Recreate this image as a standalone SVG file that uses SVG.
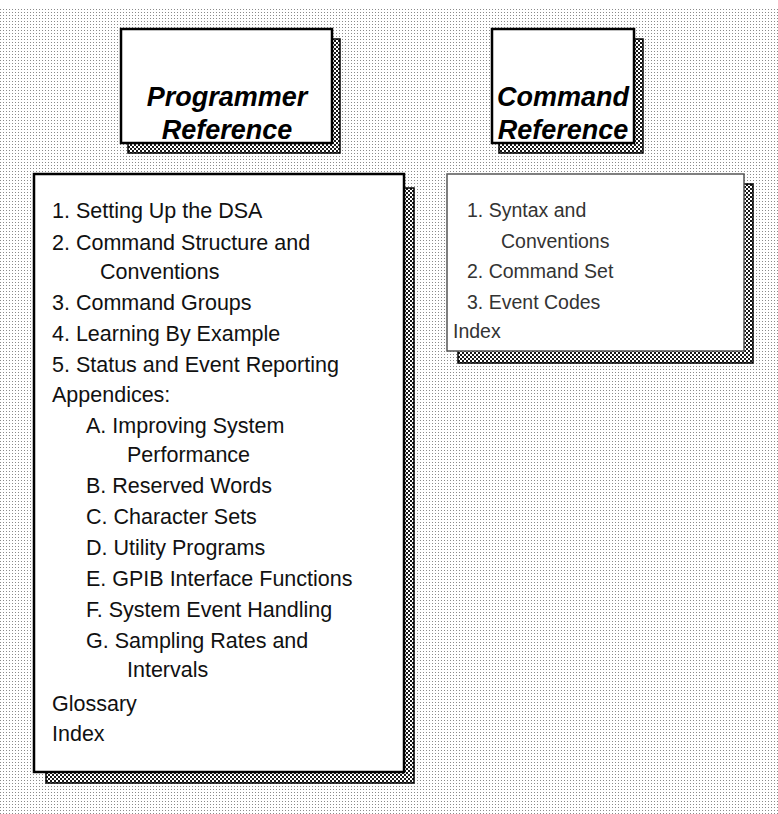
<svg xmlns="http://www.w3.org/2000/svg" width="778" height="814" viewBox="0 0 778 814">
<defs>
<pattern id="bgdots" width="3" height="3" patternUnits="userSpaceOnUse">
<rect width="3" height="3" fill="#ffffff"/>
<rect x="0" y="0" width="1" height="1" fill="#8a8a8a"/>
</pattern>
<pattern id="checker" width="4" height="4" patternUnits="userSpaceOnUse">
<rect width="4" height="4" fill="#1a1a1a"/>
<rect x="0" y="0" width="2" height="2" fill="#ffffff"/>
<rect x="2" y="2" width="2" height="2" fill="#ffffff"/>
</pattern>
</defs>
<style>
.shadow{fill:url(#checker);stroke:#000;stroke-width:1.5}
.box{fill:#fff;stroke:#000;stroke-width:2.5}
.box2{fill:#fff;stroke:#555;stroke-width:1.5}
.title{font-family:"Liberation Sans",Arial,sans-serif;font-weight:bold;font-style:italic;font-size:27px;fill:#000;text-anchor:middle}
.item{font-family:"Liberation Sans",Arial,sans-serif;font-size:21.5px;fill:#111}
.item2{font-family:"Liberation Sans",Arial,sans-serif;font-size:19.5px;fill:#333}
</style>
<rect x="0" y="0" width="778" height="814" fill="#fff"/>
<rect x="0" y="9" width="778" height="805" fill="url(#bgdots)"/>

<g id="programmer-reference-title">
<rect class="shadow" x="128" y="39" width="212" height="114"/>
<rect class="box" x="121" y="29" width="211" height="114"/>
<text class="title" x="227" y="106">Programmer</text>
<text class="title" x="227" y="139">Reference</text>
</g>

<g id="command-reference-title">
<rect class="shadow" x="499" y="39" width="144" height="114"/>
<rect class="box" x="492" y="29" width="142" height="114"/>
<text class="title" x="563" y="106">Command</text>
<text class="title" x="563" y="139">Reference</text>
</g>

<g id="programmer-contents">
<rect class="shadow" x="46" y="188" width="368" height="595"/>
<rect class="box" x="34" y="174" width="370" height="598"/>
<text class="item" x="52" y="218">1. Setting Up the DSA</text>
<text class="item" x="52" y="250">2. Command Structure and</text>
<text class="item" x="100" y="279">Conventions</text>
<text class="item" x="52" y="310">3. Command Groups</text>
<text class="item" x="52" y="341">4. Learning By Example</text>
<text class="item" x="52" y="372">5. Status and Event Reporting</text>
<text class="item" x="52" y="402">Appendices:</text>
<text class="item" x="86" y="433">A. Improving System</text>
<text class="item" x="127" y="462">Performance</text>
<text class="item" x="86" y="493">B. Reserved Words</text>
<text class="item" x="86" y="524">C. Character Sets</text>
<text class="item" x="86" y="555">D. Utility Programs</text>
<text class="item" x="86" y="586">E. GPIB Interface Functions</text>
<text class="item" x="86" y="617">F. System Event Handling</text>
<text class="item" x="86" y="648">G. Sampling Rates and</text>
<text class="item" x="127" y="677">Intervals</text>
<text class="item" x="52" y="711">Glossary</text>
<text class="item" x="52" y="741">Index</text>
</g>

<g id="command-contents">
<rect class="shadow" x="458" y="184" width="295" height="179"/>
<rect class="box2" x="447" y="174" width="297" height="177"/>
<text class="item2" x="467" y="217">1. Syntax and</text>
<text class="item2" x="501" y="248">Conventions</text>
<text class="item2" x="467" y="278">2. Command Set</text>
<text class="item2" x="467" y="309">3. Event Codes</text>
<text class="item2" x="453" y="338">Index</text>
</g>

<g id="connectors"></g>
</svg>
